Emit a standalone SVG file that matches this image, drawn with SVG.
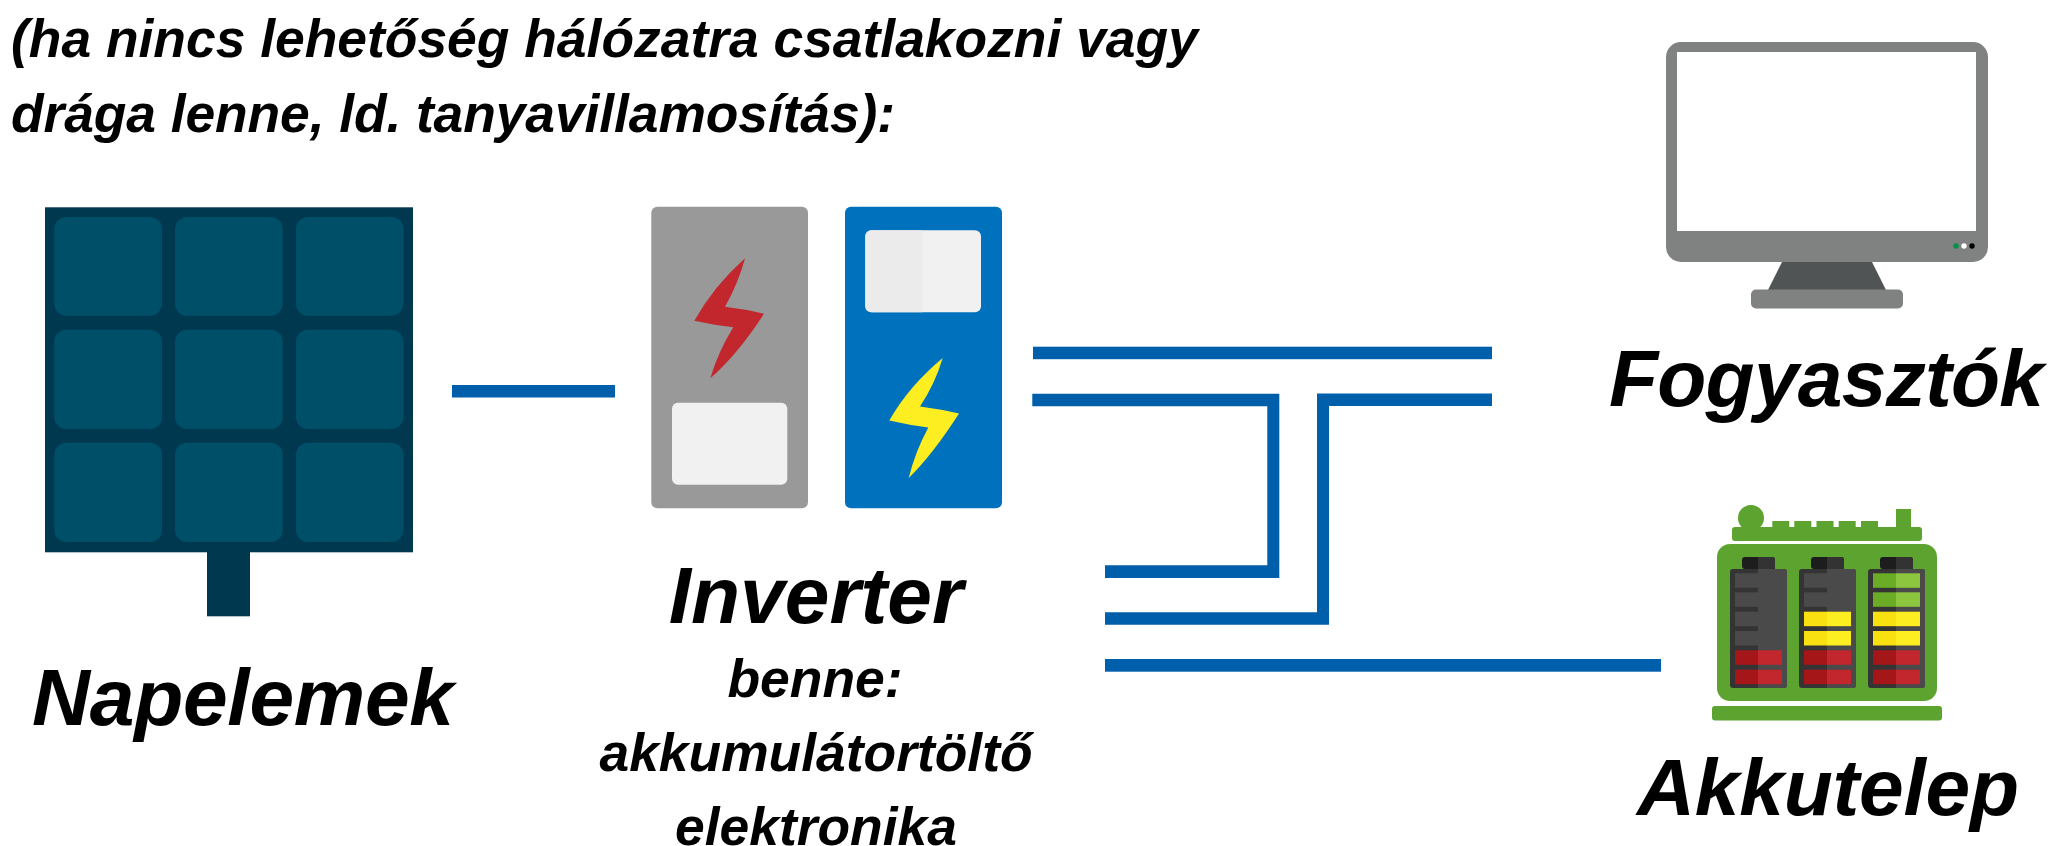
<svg xmlns="http://www.w3.org/2000/svg" width="2048" height="846" viewBox="0 0 2048 846">
<style>
text{font-family:"Liberation Sans",Arial,sans-serif;font-weight:700;font-style:italic;fill:#000}
.hd{font-size:53.400px}.lg{font-size:80.300px}.md{font-size:53.400px}
.mid{text-anchor:middle}
.w{fill:#005fab}
.cell{fill:#004f68}
.pd{fill:#003850}
.g{fill:#5ca32f}
.cd{fill:#343434}.cl{fill:#4a4a4a}
.r1{fill:#a51618}.r2{fill:#c1272d}.y1{fill:#f9e010}.y2{fill:#fcee21}.g1{fill:#6aac25}.g2{fill:#8cc63f}
.capd{fill:#1d1d1d}.capl{fill:#333}
</style>
<defs>
<g id="cellbase">
<rect class="cd" x="0" y="0" width="57" height="119" rx="3"/>
<path class="cl" d="M28 0H54a3 3 0 0 1 3 3V116a3 3 0 0 1-3 3H28Z"/>
<rect class="capd" x="12" y="-12" width="33" height="12" rx="3"/>
<path class="capl" d="M28 -12H42a3 3 0 0 1 3 3V0H28Z"/>
</g>
<g id="ebar"><rect class="cl" x="5" y="0" width="47" height="14.500"/></g>
<g id="rbar"><rect class="r1" x="5" y="0" width="23" height="14.500"/><rect class="r2" x="28" y="0" width="24" height="14.500"/></g>
<g id="ybar"><rect class="y1" x="5" y="0" width="23" height="14.500"/><rect class="y2" x="28" y="0" width="24" height="14.500"/></g>
<g id="gbar"><rect class="g1" x="5" y="0" width="23" height="14.500"/><rect class="g2" x="28" y="0" width="24" height="14.500"/></g>
</defs>
<rect width="2048" height="846" fill="#fff"/>
<g id="title">
<text class="hd" x="11" y="57">(ha nincs lehetőség hálózatra csatlakozni vagy</text>
<text class="hd" x="11" y="132" textLength="884">drága lenne, ld. tanyavillamosítás):</text>
</g>
<g id="connectors">
<rect class="w" x="452" y="385" width="163" height="12.500"/>
<rect class="w" x="1033" y="346.700" width="459" height="12.500"/>
<path class="w" d="M1032.300 393.700H1279.300V578H1105V565.300H1267.300V406.300H1032.300Z"/>
<path class="w" d="M1492 393.500V406H1329V624.700H1105V612.300H1317V393.500Z"/>
<rect class="w" x="1105" y="659" width="556" height="12.700"/>
</g>
<g id="napelemek">
<rect class="pd" x="45" y="207.300" width="368" height="345"/>
<rect class="pd" x="207" y="552" width="43" height="64.300"/>
<rect class="cell" x="54.300" y="217" width="107.700" height="98.700" rx="12"/>
<rect class="cell" x="175" y="217" width="107.700" height="98.700" rx="12"/>
<rect class="cell" x="296" y="217" width="107.300" height="98.700" rx="12"/>
<rect class="cell" x="54.300" y="329.700" width="107.700" height="99.300" rx="12"/>
<rect class="cell" x="175" y="329.700" width="107.700" height="99.300" rx="12"/>
<rect class="cell" x="296" y="329.700" width="107.300" height="99.300" rx="12"/>
<rect class="cell" x="54.300" y="442.700" width="107.700" height="99.300" rx="12"/>
<rect class="cell" x="175" y="442.700" width="107.700" height="99.300" rx="12"/>
<rect class="cell" x="296" y="442.700" width="107.300" height="99.300" rx="12"/>
<text class="lg" x="32" y="725" textLength="422">Napelemek</text>
</g>
<g id="inverter">
<rect x="651.300" y="206.700" width="156.700" height="301.600" rx="6" fill="#999"/>
<rect x="672" y="402.700" width="115.300" height="82" rx="6" fill="#f1f1f1"/>
<path d="M745 258.300Q714 286 694.300 320.700Q714 325 733.300 327.300Q718 352 710.300 378.300Q738 354 764 313.700Q745 309 725 306.700Q738 284 745 258.300Z" fill="#c1272d"/>
<rect x="845" y="206.700" width="157" height="301.600" rx="6" fill="#0071bc"/>
<rect x="865.300" y="230.300" width="115.700" height="82" rx="6" fill="#f1f1f1"/>
<path d="M922.300 230.300H871.300a6 6 0 0 0-6 6V306.300a6 6 0 0 0 6 6H922.300Z" fill="#ebebeb"/>
<path d="M942.700 358Q909 386 889.300 420.400Q909 425 928.300 427.400Q915 452 908.700 478Q933 454 959 413.400Q940 409 920 406.400Q935 384 942.700 358Z" fill="#fcee21"/>
<text class="lg mid" x="816" y="623">Inverter</text>
<text class="md mid" x="815" y="697">benne:</text>
<text class="md mid" x="816" y="771">akkumulátortöltő</text>
<text class="md mid" x="816" y="845">elektronika</text>
</g>
<g id="fogyasztok">
<rect x="1666" y="42" width="322" height="220" rx="15" fill="#808281"/>
<rect x="1677" y="52" width="299" height="179" fill="#fff"/>
<path d="M1782 262H1872L1886 290H1768Z" fill="#505454"/>
<rect x="1751" y="289.500" width="152" height="19" rx="5" fill="#808281"/>
<circle cx="1956" cy="246" r="2.700" fill="#009245"/>
<circle cx="1964" cy="246" r="2.700" fill="#fff"/>
<circle cx="1972" cy="246" r="2.700" fill="#000"/>
<text class="lg" x="1609" y="406" textLength="435">Fogyasztók</text>
</g>
<g id="akkutelep">
<circle class="g" cx="1751" cy="518" r="13"/>
<rect class="g" x="1732" y="527" width="190" height="14" rx="3"/>
<rect class="g" x="1772.300" y="521" width="17" height="7"/>
<rect class="g" x="1794.300" y="521" width="17" height="7"/>
<rect class="g" x="1816.500" y="521" width="17" height="7"/>
<rect class="g" x="1838.700" y="521" width="17" height="7"/>
<rect class="g" x="1861" y="521" width="17" height="7"/>
<rect class="g" x="1896" y="509" width="15" height="19"/>
<rect class="g" x="1717" y="544" width="220" height="157" rx="13"/>
<rect class="g" x="1712" y="706" width="230" height="14.500" rx="3"/>
<g transform="translate(1730 569)">
<use href="#cellbase"/>
<use href="#ebar" y="4.300"/><use href="#ebar" y="23.300"/><use href="#ebar" y="42.700"/><use href="#ebar" y="62"/>
<use href="#rbar" y="81.300"/><use href="#rbar" y="100.700"/>
</g>
<g transform="translate(1799 569)">
<use href="#cellbase"/>
<use href="#ebar" y="4.300"/><use href="#ebar" y="23.300"/><use href="#ybar" y="42.700"/><use href="#ybar" y="62"/>
<use href="#rbar" y="81.300"/><use href="#rbar" y="100.700"/>
</g>
<g transform="translate(1868 569)">
<use href="#cellbase"/>
<use href="#gbar" y="4.300"/><use href="#gbar" y="23.300"/><use href="#ybar" y="42.700"/><use href="#ybar" y="62"/>
<use href="#rbar" y="81.300"/><use href="#rbar" y="100.700"/>
</g>
<text class="lg" x="1637" y="815" textLength="382">Akkutelep</text>
</g>
</svg>
